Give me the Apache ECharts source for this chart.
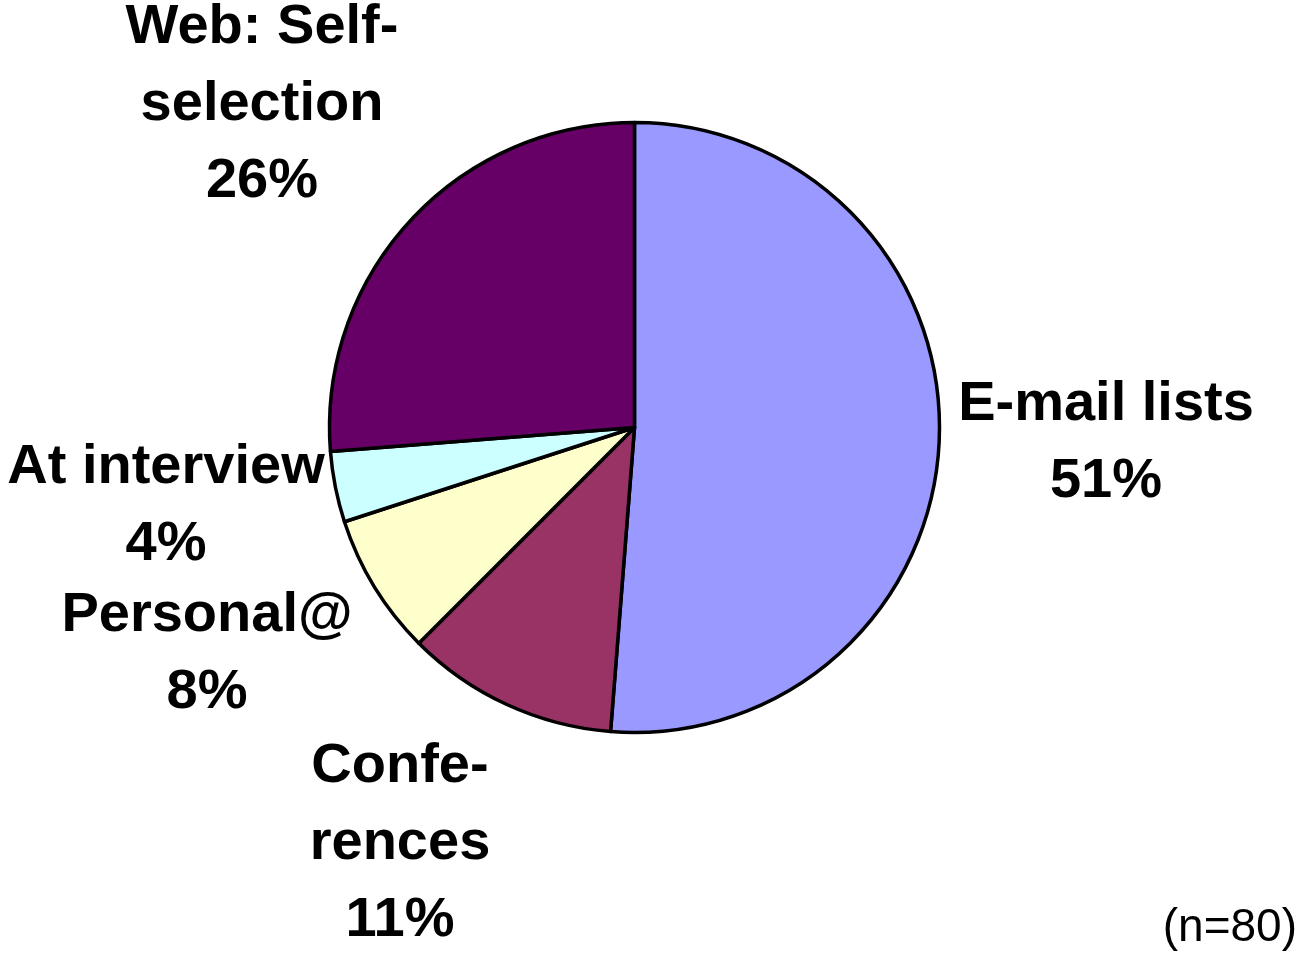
<!DOCTYPE html>
<html>
<head>
<meta charset="utf-8">
<script src="https://cdn.jsdelivr.net/npm/echarts@6/dist/echarts.min.js"></script>
<style>
  html, body { margin: 0; padding: 0; background: #fff; }
  #chart { width: 1303px; height: 956px; }
</style>
</head>
<body>
<div id="chart"></div>
<script>
// Recruitment source of respondents (counts, n = 80), clockwise from 12 o'clock
const categories = ['E-mail lists', 'Confe-\nrences', 'Personal@', 'At interview', 'Web: Self-\nselection'];
const counts = [41, 9, 6, 3, 21];
const sliceColors = ['#9999FF', '#993366', '#FFFFCC', '#CCFFFF', '#660066'];
const sampleNote = '(n=80)';

// Label block centres (px) for each slice
const labelCenters = [
  [1106, 443],
  [400, 844],
  [207, 654],
  [166, 506],
  [262, 105]
];

const chart = echarts.init(document.getElementById('chart'), null, { renderer: 'canvas' });

chart.setOption({
  backgroundColor: '#ffffff',
  animation: false,
  series: [{
    type: 'pie',
    center: [634.5, 427.5],
    radius: 305,
    startAngle: 90,
    clockwise: true,
    percentPrecision: 0,
    avoidLabelOverlap: false,
    data: categories.map((name, i) => ({
      name: name,
      value: counts[i],
      itemStyle: { color: sliceColors[i] }
    })),
    itemStyle: { borderColor: '#000', borderWidth: 3.5 },
    emphasis: { disabled: true },
    label: {
      show: true,
      position: 'outside',
      formatter: '{b}\n{d}%',
      fontFamily: '"Liberation Sans", Arial, sans-serif',
      fontWeight: 'bold',
      fontSize: 56,
      lineHeight: 77,
      color: '#000',
      align: 'center'
    },
    labelLine: { show: false },
    labelLayout: function (params) {
      const c = labelCenters[params.dataIndex];
      return { x: c[0], y: c[1], align: 'center', verticalAlign: 'middle' };
    }
  }],
  graphic: [{
    type: 'text',
    right: 6,
    top: 905,
    style: {
      text: sampleNote,
      font: '46px "Liberation Sans", Arial, sans-serif',
      fill: '#000'
    }
  }]
});
</script>
</body>
</html>
